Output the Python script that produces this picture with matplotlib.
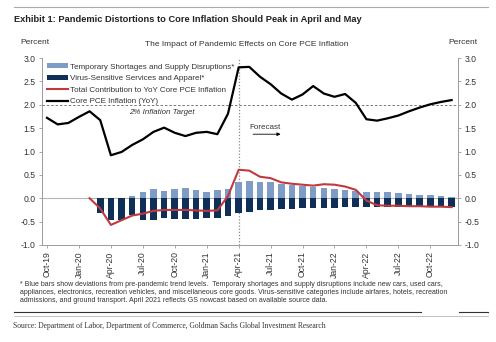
import matplotlib
matplotlib.use("Agg")
import matplotlib.pyplot as plt
import numpy as np

plt.rcParams['font.family'] = ['Liberation Sans', 'DejaVu Sans']

months = ["Oct-19","Nov-19","Dec-19","Jan-20","Feb-20","Mar-20","Apr-20","May-20","Jun-20",
          "Jul-20","Aug-20","Sep-20","Oct-20","Nov-20","Dec-20","Jan-21","Feb-21","Mar-21",
          "Apr-21","May-21","Jun-21","Jul-21","Aug-21","Sep-21","Oct-21","Nov-21","Dec-21",
          "Jan-22","Feb-22","Mar-22","Apr-22","May-22","Jun-22","Jul-22","Aug-22","Sep-22",
          "Oct-22","Nov-22","Dec-22"]

core_pce = [1.72,1.58,1.61,1.74,1.86,1.67,0.92,0.99,1.14,1.26,1.42,1.51,1.40,1.33,1.40,1.42,
            1.37,1.81,2.80,2.81,2.60,2.44,2.24,2.11,2.22,2.40,2.24,2.17,2.23,2.04,1.69,1.66,
            1.71,1.77,1.86,1.94,2.01,2.06,2.10]

# bars start Mar-20
bar_months = months[5:]
temporary = [0.0,0.0,0.0,0.05,0.13,0.19,0.16,0.19,0.21,0.18,0.14,0.18,0.19,0.34,0.36,0.34,
             0.34,0.31,0.29,0.26,0.25,0.21,0.20,0.18,0.16,0.14,0.14,0.13,0.11,0.09,0.07,0.07,
             0.05,0.03]
virus = [-0.32,-0.46,-0.46,-0.36,-0.46,-0.46,-0.43,-0.44,-0.44,-0.44,-0.43,-0.43,-0.39,-0.31,
         -0.29,-0.26,-0.25,-0.24,-0.22,-0.21,-0.21,-0.20,-0.20,-0.19,-0.19,-0.19,-0.19,-0.18,
         -0.18,-0.18,-0.18,-0.18,-0.18,-0.18]

# total contribution starts Feb-20
total_months = months[4:]
total = [0.0,-0.22,-0.57,-0.47,-0.37,-0.33,-0.27,-0.25,-0.25,-0.25,-0.26,-0.27,-0.26,0.05,
         0.61,0.59,0.46,0.43,0.34,0.31,0.29,0.27,0.30,0.29,0.25,0.18,-0.05,-0.15,-0.16,-0.16,
         -0.17,-0.17,-0.18,-0.18,-0.19]

tick_labels = months[::3]

LIGHT = "#7E9CC6"
DARK = "#0F2F57"
RED = "#C0393F"
GRAY = "#9A9A9A"
TXT = "#333333"

fig = plt.figure(figsize=(4.96, 3.42), dpi=100)
ax = fig.add_axes([42/496, 1-245/342, (458-42)/496, (245-58)/342])

idx = {m: i for i, m in enumerate(months)}
xb = [idx[m] for m in bar_months]
xt = [idx[m] for m in total_months]
xc = list(range(len(months)))

ax.axhline(0, color="#B5B5B5", lw=0.8, zorder=1)
ax.axhline(2.0, color="#777777", lw=0.7, ls=(0, (2.5, 2)), zorder=1)
ax.axvline(idx["Apr-21"], color="#888888", lw=0.9, ls=(0, (1, 1.5)), zorder=1)

b1 = ax.bar(xb, temporary, width=0.62, color=LIGHT, zorder=2,
            label="Temporary Shortages and Supply Disruptions*")
b2 = ax.bar(xb, virus, width=0.62, color=DARK, zorder=2,
            label="Virus-Sensitive Services and Apparel*")
l1, = ax.plot(xt, total, color=RED, lw=1.5, zorder=3,
              label="Total Contribution to YoY Core PCE Inflation")
l2, = ax.plot(xc, core_pce, color="black", lw=1.6, zorder=4,
              label="Core PCE Inflation (YoY)")

ax.set_xlim(-0.47, 38.6)
ax.set_ylim(-1.0, 3.0)
yt = np.arange(-1.0, 3.01, 0.5)
ax.set_yticks(yt)
ax.set_yticklabels([f"{v:.1f}" for v in yt])
ax.set_xticks([idx[m] for m in tick_labels])
ax.set_xticklabels(tick_labels, rotation=90)

ax.tick_params(axis="y", labelsize=6.2, colors=TXT, length=2.5, width=0.6, color=GRAY, pad=2,
               left=True, right=True, labelleft=True, labelright=True)
ax.tick_params(axis="x", labelsize=6.2, colors=TXT, length=2.5, width=0.6, color=GRAY, pad=2)
for s in ["left", "right", "bottom"]:
    ax.spines[s].set_color(GRAY)
    ax.spines[s].set_linewidth(0.7)
ax.spines["top"].set_visible(False)

leg = ax.legend(handles=[b1, b2, l1, l2], loc="upper left", bbox_to_anchor=(0.0, 1.0),
                frameon=False, fontsize=5.8, handlelength=2.6, handleheight=0.6,
                labelspacing=0.52, borderaxespad=0.25, handletextpad=0.2)
for t in leg.get_texts():
    t.set_color(TXT)

ax.text(7.7, 1.84, "2% Inflation Target", fontsize=5.7, style="italic", color=TXT,
        ha="left", va="center")
ax.text(19.0, 1.52, "Forecast", fontsize=5.8, color=TXT, ha="left", va="center")
ax.annotate("", xy=(22.2, 1.37), xytext=(19.1, 1.37),
            arrowprops=dict(arrowstyle="-|>", color="black", lw=0.6, mutation_scale=5))

# Header: fit the bold title into its reference width
head = fig.text(14/496, 1-20/342,
                "Exhibit 1: Pandemic Distortions to Core Inflation Should Peak in April and May",
                fontsize=8, fontweight="bold", fontstretch="condensed",
                color="#222222", va="center", ha="left")
r = fig.canvas.get_renderer()
w = head.get_window_extent(r).width
if w > 346:
    head.set_fontsize(8 * 346 / w)

fig.text(247/496, 1-44/342, "The Impact of Pandemic Effects on Core PCE Inflation",
         fontsize=6, color=TXT, ha="center", va="center")
fig.text(20/496, 1-43/342, "Percent", fontsize=6, color=TXT, ha="left", va="center")
fig.text(448/496, 1-42/342, "Percent", fontsize=6, color=TXT, ha="left", va="center")

foot = ("* Blue bars show deviations from pre-pandemic trend levels.  Temporary shortages and supply disruptions include new cars, used cars,\n"
        "appliances, electronics, recreation vehicles, and miscellaneous core goods. Virus-sensitive categories include airfares, hotels, recreation\n"
        "admissions, and ground transport. April 2021 reflects GS nowcast based on available source data.")
fig.text(20/496, 1-281/342, foot, fontsize=5.0, color=TXT, ha="left", va="top", linespacing=1.25)

fig.text(13/496, 1-326/342,
         "Source: Department of Labor, Department of Commerce, Goldman Sachs Global Investment Research",
         fontsize=5.5, family=["Liberation Serif"], color="#333333", ha="left", va="center")

# decorative rules
fig.add_artist(plt.Line2D([14/496, 488/496], [1-7/342, 1-7/342], color="#AAAAAA", lw=0.8))
fig.add_artist(plt.Line2D([14/496, 421/496], [1-312/342, 1-312/342], color="#333333", lw=0.8))
fig.add_artist(plt.Line2D([459/496, 488/496], [1-312/342, 1-312/342], color="#333333", lw=0.8))
fig.add_artist(plt.Line2D([14/496, 488/496], [1-316/342, 1-316/342], color="#AAAAAA", lw=0.5))

fig.savefig("out.png", dpi=100)
